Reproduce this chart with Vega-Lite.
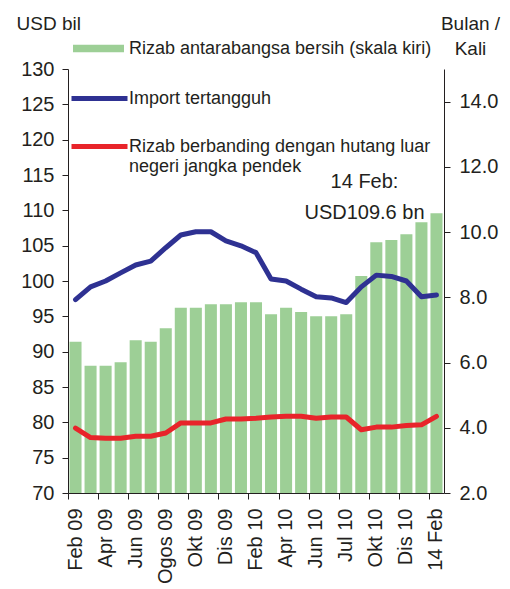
{
  "$schema": "https://vega.github.io/schema/vega-lite/v6.json",
  "width": 376,
  "height": 424,
  "autosize": {"type": "none"},
  "padding": {"left": 68, "top": 69, "right": 66, "bottom": 96},
  "background": "white",
  "config": {
    "view": {"stroke": null},
    "font": "Liberation Sans",
    "axis": {
      "labelFont": "Liberation Sans",
      "labelFontSize": 20,
      "labelColor": "#231f20",
      "domainColor": "#231f20",
      "tickColor": "#231f20",
      "titleFont": "Liberation Sans",
      "titleColor": "#231f20",
      "titleFontWeight": "normal",
      "grid": false
    },
    "legend": {
      "labelFont": "Liberation Sans",
      "labelColor": "#231f20",
      "labelFontSize": 18,
      "labelLimit": 400,
      "padding": 0,
      "title": null
    }
  },
  "data": {
    "values": [
      {"m": "Feb 09", "rizab": 91.4, "imp": 7.93, "ratio": 3.99},
      {"m": "Mac 09", "rizab": 88.0, "imp": 8.32, "ratio": 3.70},
      {"m": "Apr 09", "rizab": 88.0, "imp": 8.50, "ratio": 3.68},
      {"m": "Mei 09", "rizab": 88.5, "imp": 8.75, "ratio": 3.68},
      {"m": "Jun 09", "rizab": 91.6, "imp": 8.99, "ratio": 3.74},
      {"m": "Jul 09", "rizab": 91.4, "imp": 9.11, "ratio": 3.74},
      {"m": "Ogos 09", "rizab": 93.3, "imp": 9.52, "ratio": 3.84},
      {"m": "Sep 09", "rizab": 96.2, "imp": 9.91, "ratio": 4.15},
      {"m": "Okt 09", "rizab": 96.2, "imp": 10.01, "ratio": 4.15},
      {"m": "Nov 09", "rizab": 96.7, "imp": 10.01, "ratio": 4.15},
      {"m": "Dis 09", "rizab": 96.7, "imp": 9.73, "ratio": 4.27},
      {"m": "Jan 10", "rizab": 97.0, "imp": 9.58, "ratio": 4.27},
      {"m": "Feb 10", "rizab": 97.0, "imp": 9.37, "ratio": 4.29},
      {"m": "Mac 10", "rizab": 95.3, "imp": 8.56, "ratio": 4.33},
      {"m": "Apr 10", "rizab": 96.2, "imp": 8.50, "ratio": 4.35},
      {"m": "Mei 10", "rizab": 95.6, "imp": 8.25, "ratio": 4.35},
      {"m": "Jun 10", "rizab": 95.0, "imp": 8.02, "ratio": 4.29},
      {"m": "15 Jul 10", "rizab": 95.0, "imp": 7.98, "ratio": 4.33},
      {"m": "Jul 10", "rizab": 95.3, "imp": 7.84, "ratio": 4.33},
      {"m": "Sep 10", "rizab": 100.7, "imp": 8.32, "ratio": 3.94},
      {"m": "Okt 10", "rizab": 105.5, "imp": 8.68, "ratio": 4.02},
      {"m": "Nov 10", "rizab": 105.8, "imp": 8.64, "ratio": 4.02},
      {"m": "Dis 10", "rizab": 106.6, "imp": 8.50, "ratio": 4.07},
      {"m": "Jan 11", "rizab": 108.3, "imp": 8.02, "ratio": 4.09},
      {"m": "14 Feb", "rizab": 109.6, "imp": 8.07, "ratio": 4.35}
    ]
  },
  "layer": [
    {
      "mark": {"type": "bar"},
      "encoding": {
        "x": {
          "field": "m", "type": "nominal", "sort": null,
          "scale": {"type": "band", "paddingInner": 0.2, "paddingOuter": 0.1},
          "axis": {
            "orient": "bottom",
            "title": null, "labels": false, "ticks": true, "tickSize": 6,
            "bandPosition": 0, "tickOffset": -1.5, "domain": true,
            "values": ["Feb 09", "Apr 09", "Jun 09", "Ogos 09", "Okt 09", "Dis 09", "Feb 10", "Apr 10", "Jun 10", "Jul 10", "Okt 10", "Dis 10", "14 Feb"]
          }
        },
        "y": {
          "field": "rizab", "type": "quantitative",
          "scale": {"domain": [70, 130], "zero": false, "nice": false},
          "axis": {
            "orient": "left",
            "values": [70, 75, 80, 85, 90, 95, 100, 105, 110, 115, 120, 125, 130],
            "tickSize": 6, "labelPadding": 8,
            "title": "USD bil", "titleAngle": 0, "titleAlign": "left",
            "titleBaseline": "alphabetic", "titleX": -52, "titleY": -40, "titleFontSize": 19
          }
        },
        "y2": {"datum": 70},
        "fill": {
          "datum": "Rizab antarabangsa bersih (skala kiri)",
          "scale": {"range": ["#9dcf96"]},
          "legend": {
            "orient": "none", "legendX": 5, "legendY": -46,
            "symbolType": "M-1,-0.15L1,-0.15L1,0.15L-1,0.15Z",
            "symbolSize": 2601, "symbolStrokeWidth": 0, "labelOffset": 5
          }
        }
      }
    },
    {
      "transform": [{"filter": "datum.m == '14 Feb'"}],
      "mark": {"type": "text", "align": "center", "baseline": "alphabetic", "dx": -72, "dy": -25, "fontSize": 20, "lineHeight": 31, "color": "#231f20"},
      "encoding": {
        "x": {"field": "m", "type": "nominal", "sort": null, "axis": null},
        "y": {"field": "rizab", "type": "quantitative", "scale": {"domain": [70, 130], "zero": false, "nice": false}, "axis": null},
        "text": {"value": ["14 Feb:", "USD109.6 bn"]}
      }
    },
    {
      "mark": {"type": "line", "strokeWidth": 5, "strokeCap": "round", "strokeJoin": "round"},
      "encoding": {
        "x": {
          "field": "m", "type": "nominal", "sort": null,
          "axis": {
            "orient": "bottom",
            "title": null, "ticks": false, "domain": false, "labelAngle": -90,
            "labelPadding": 15, "labelFontSize": 20,
            "values": ["Feb 09", "Apr 09", "Jun 09", "Ogos 09", "Okt 09", "Dis 09", "Feb 10", "Apr 10", "Jun 10", "Jul 10", "Okt 10", "Dis 10", "14 Feb"]
          }
        },
        "y": {
          "field": "imp", "type": "quantitative",
          "scale": {"domain": [2, 15], "zero": false, "nice": false},
          "axis": {
            "orient": "right", "values": [2, 4, 6, 8, 10, 12, 14], "format": ".1f",
            "tickSize": 6, "labelPadding": 9,
            "title": ["Bulan /", "Kali"], "titleAngle": 0, "titleAlign": "center",
            "titleBaseline": "alphabetic", "titleX": 26, "titleY": -40,
            "titleLineHeight": 25, "titleFontSize": 19
          }
        },
        "stroke": {
          "datum": "Import tertangguh",
          "scale": {"range": ["#2e3192"]},
          "legend": {
            "orient": "none", "legendX": 1, "legendY": -1,
            "symbolType": "stroke", "symbolSize": 3136, "symbolStrokeWidth": 5,
            "labelOffset": -1
          }
        }
      }
    },
    {
      "mark": {"type": "line", "strokeWidth": 5, "strokeCap": "round", "strokeJoin": "round"},
      "encoding": {
        "x": {"field": "m", "type": "nominal", "sort": null, "axis": null},
        "y": {
          "field": "ratio", "type": "quantitative",
          "scale": {"domain": [2, 15], "zero": false, "nice": false},
          "axis": null
        },
        "color": {
          "datum": "Rizab berbanding dengan hutang luar negeri jangka pendek",
          "scale": {"range": ["#e8242a"]},
          "legend": {
            "orient": "none", "legendX": 1, "legendY": 47,
            "symbolType": "stroke", "symbolSize": 3136, "symbolStrokeWidth": 5,
            "labelOffset": -1,
            "labelExpr": "['Rizab berbanding dengan hutang luar', 'negeri jangka pendek']"
          }
        }
      }
    }
  ],
  "resolve": {"scale": {"y": "independent"}, "axis": {"x": "independent"}}
}
